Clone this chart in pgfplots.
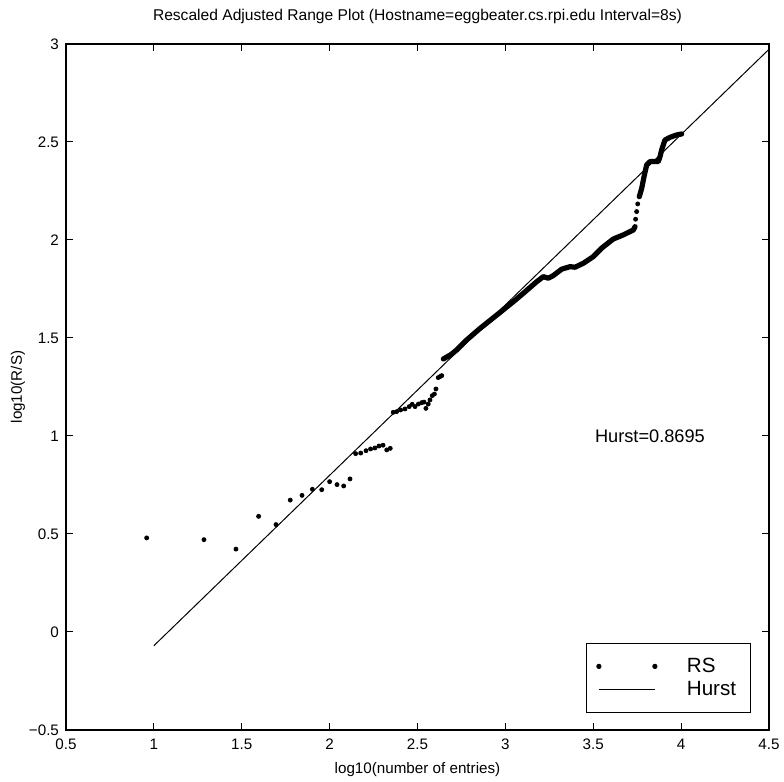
\documentclass[border=0pt]{standalone}
\usepackage{fontspec}
\setmainfont{Liberation Sans}
\usepackage{pgfplots}
\pgfplotsset{compat=1.18}
\begin{document}
\begin{tikzpicture}
\begin{axis}[
  scale only axis,
  width=351.5pt, height=343pt,
  xmin=0.5, xmax=4.5, ymin=-0.5, ymax=3,
  xtick={0.5,1,1.5,2,2.5,3,3.5,4,4.5},
  xticklabels={0.5,1,1.5,2,2.5,3,3.5,4,4.5},
  ytick={-0.5,0,0.5,1,1.5,2,2.5,3},
  yticklabels={−0.5,0,0.5,1,1.5,2,2.5,3},
  tick align=inside,
  major tick length=3.5pt,
  axis line style={line width=0.6pt},
  every tick/.style={line width=0.5pt, black},
  tick label style={font=\fontsize{7.6}{8}\selectfont},
  xticklabel style={yshift=-1pt},
  title={Rescaled Adjusted Range Plot (Hostname=eggbeater.cs.rpi.edu Interval=8s)},
  title style={font=\fontsize{7.8}{8}\selectfont, at={(axis description cs:0.5,1.0233)}, anchor=center},
  xlabel={log10(number of entries)},
  xlabel style={font=\fontsize{7.6}{8}\selectfont, at={(axis description cs:0.5,-0.0583)}, anchor=center},
  ylabel={log10(R/S)},
  ylabel style={font=\fontsize{7.6}{8}\selectfont, at={(axis description cs:-0.0683,0.5)}, anchor=center},
  legend style={at={(0.974,0.025)}, anchor=south east, draw=black, line width=0.6pt,
    font=\fontsize{10.3}{11}\selectfont, inner xsep=5pt, inner ysep=5pt,
    row sep=-1pt},
  legend cell align=left,
]
% RS sparse points
\addplot[only marks, mark=*, mark size=1pt, black,
  legend image code/.code={\fill[black] (0pt,0pt) circle (1pt); \fill[black] (28pt,0pt) circle (1pt); \path[draw=none,fill=none] (0pt,0pt) -- (42pt,0pt);}]
coordinates {
(0.959,0.480) (1.285,0.471) (1.467,0.423) (1.596,0.590) (1.695,0.548)
(1.776,0.673) (1.843,0.697) (1.902,0.728) (1.955,0.726) (2.000,0.767)
(2.042,0.752) (2.080,0.745) (2.116,0.781) (2.148,0.910) (2.177,0.913)
(2.207,0.925) (2.233,0.934) (2.258,0.939) (2.281,0.949) (2.304,0.953)
(2.325,0.929) (2.345,0.937)
(2.362,1.121) (2.381,1.124) (2.404,1.133) (2.429,1.138) (2.453,1.150)
(2.470,1.162) (2.486,1.150) (2.505,1.163) (2.524,1.170) (2.537,1.173)
(2.548,1.141) (2.561,1.163) (2.571,1.184) (2.584,1.206) (2.596,1.214)
(2.605,1.240) (2.618,1.298) (2.630,1.304) (2.638,1.308)
(3.741,2.106) (3.747,2.145) (3.753,2.184)
};
\addlegendentry{RS}
% Hurst line
\addplot[black, line width=0.5pt,
  legend image code/.code={\draw[line width=0.5pt] (0pt,0pt) -- (28pt,0pt); \path[draw=none,fill=none] (0pt,0pt) -- (42pt,0pt);}]
coordinates {(1,-0.070) (4.5,2.973)};
\addlegendentry{Hurst}
% RS dense part
\addplot[forget plot, black, line width=2.6pt, line cap=round, line join=round]
coordinates {
(2.647,1.393) (2.690,1.415) (2.723,1.439) (2.780,1.490) (2.856,1.549)
(2.951,1.617) (3.045,1.685) (3.102,1.728) (3.178,1.787) (3.216,1.813)
(3.244,1.805) (3.272,1.818) (3.320,1.851) (3.368,1.864) (3.396,1.861)
(3.443,1.881) (3.500,1.915) (3.550,1.960) (3.614,2.005) (3.671,2.026)
(3.728,2.051) (3.738,2.068)
};
\addplot[forget plot, black, line width=2.6pt, line cap=round, line join=round]
coordinates {
(3.762,2.221) (3.776,2.264) (3.789,2.323) (3.804,2.383) (3.823,2.400)
(3.870,2.400) (3.880,2.425) (3.889,2.459) (3.908,2.510) (3.937,2.524)
(3.975,2.536) (4.003,2.541)
};
\node[anchor=west, font=\fontsize{9.1}{10}\selectfont] at (axis cs:3.47,1.0) {Hurst=0.8695};
\end{axis}
\pgfresetboundingbox
\path (-33pt,-26pt) rectangle (359pt,365pt);
\end{tikzpicture}
\end{document}
